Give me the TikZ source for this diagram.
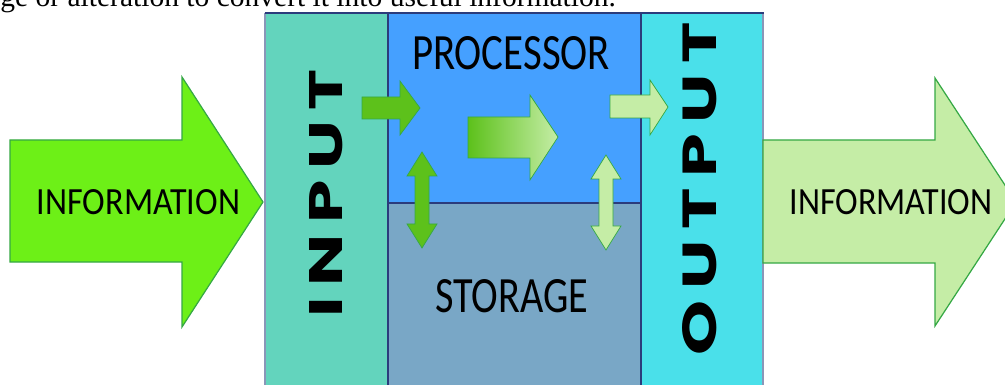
\documentclass[tikz,border=0pt]{standalone}
\usepackage{fontspec}
\setmainfont{Liberation Serif}
\newfontfamily\labelfont{Carlito}
\newfontfamily\heavyfont{Poppins}[LetterSpace=15]
\definecolor{inputcol}{HTML}{63D4BD}
\definecolor{proccol}{HTML}{45A0FF}
\definecolor{storecol}{HTML}{79A7C6}
\definecolor{outputcol}{HTML}{4AE0EA}
\definecolor{framecol}{HTML}{2B3C7C}
\definecolor{framelight}{HTML}{8A96B8}
\definecolor{brightgreen}{HTML}{6DF017}
\definecolor{midgreen}{HTML}{5DC11B}
\definecolor{lightgreen}{HTML}{C5EDA6}
\definecolor{edgegreen}{HTML}{35A844}
\newlength\pxu
\setlength\pxu{0.02cm}
\begin{document}
\begin{tikzpicture}[x=0.02cm,y=-0.02cm,
		frame/.style={draw=framecol,line width=1.1pt},
		bigarrow/.style={draw=edgegreen,line width=0.7pt,line join=miter},
		smallarrow/.style={draw=edgegreen,line width=0.4pt,line join=miter},
		boxlabel/.style={inner sep=0pt,font=\labelfont}]
		\clip (0,0) rectangle (1005,385);
		\node[anchor=base west,inner sep=0pt,font=\fontsize{16.8}{18}\selectfont] (caption) at (0,7) {ge or alteration to convert it into useful information.};
		\begin{scope}
		\fill[inputcol] (265,13) rectangle (388,395);
		\fill[proccol] (388,13) rectangle (641,203);
		\fill[storecol] (388,203) rectangle (641,395);
		\fill[outputcol] (641,13) rectangle (763,395);
		\draw[framelight,line width=1pt] (265,395) -- (265,13) (763,13) -- (763,395);
		\draw[frame] (264.5,13) -- (763.5,13);
		\draw[frame] (388,13) -- (388,395) (641,13) -- (641,395) (388,203) -- (641,203);
		\end{scope}
		\draw[bigarrow,fill=brightgreen] (10,140) -- (182,140) -- (182,77) -- (263,202) -- (182,327) -- (182,262) -- (10,262) -- cycle;
		\draw[bigarrow,fill=lightgreen] (763,140) -- (935,140) -- (935,78) -- (1016,202) -- (935,326) -- (935,263) -- (763,263) -- cycle;
		\draw[smallarrow,fill=midgreen] (362,97) -- (400,97) -- (400,81) -- (420,108) -- (400,135) -- (400,119) -- (362,119) -- cycle;
		\draw[smallarrow,left color=midgreen,right color=lightgreen] (468,117) -- (530,117) -- (530,95) -- (558,137) -- (530,180) -- (530,158) -- (468,158) -- cycle;
		\draw[smallarrow,fill=lightgreen] (610,95) -- (650,95) -- (650,80) -- (668,107) -- (650,135) -- (650,118) -- (610,118) -- cycle;
		\foreach \xc/\top/\bot/\col in {422/152/248/midgreen,606/155/250/lightgreen}
		{
			\draw[smallarrow,fill=\col] (\xc,\top) -- (\xc+15,\top+24) -- (\xc+7,\top+24) -- (\xc+7,\bot-24) -- (\xc+15,\bot-24) -- (\xc,\bot) -- (\xc-15,\bot-24) -- (\xc-7,\bot-24) -- (\xc-7,\top+24) -- (\xc-15,\top+24) -- cycle;
		}
		\node[boxlabel] (infoin) at (138.5,202) {\resizebox{203\pxu}{25\pxu}{INFORMATION}};
		\node[boxlabel] (infoout) at (891,202.5) {\resizebox{203\pxu}{25\pxu}{INFORMATION}};
		\node[boxlabel] (proc) at (511,53.5) {\resizebox{198\pxu}{33\pxu}{PROCESSOR}};
		\node[boxlabel] (store) at (511.5,296.5) {\resizebox{153\pxu}{33\pxu}{STORAGE}};
		\node[inner sep=0pt,rotate=90] (input) at (326,198.5) {\resizebox{237\pxu}{33\pxu}{\heavyfont\bfseries INPUT\kern-.15em}};
		\node[inner sep=0pt,rotate=90] (output) at (700,194) {\resizebox{322\pxu}{34\pxu}{\heavyfont\bfseries OUTPUT\kern-.15em}};
\end{tikzpicture}
\end{document}
